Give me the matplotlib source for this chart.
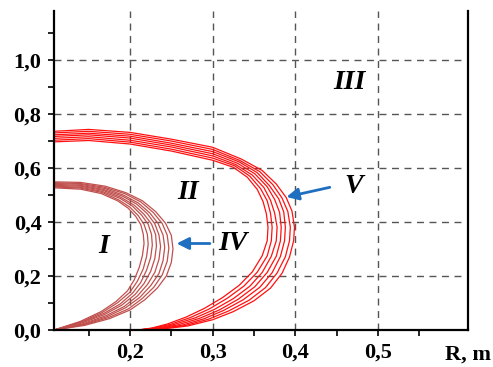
import matplotlib.pyplot as plt
from matplotlib.ticker import FixedLocator

plt.rcParams['font.family'] = 'Liberation Serif'

# red family (V), inner -> outer
red_x = [
    [0.108, 0.150, 0.200, 0.250, 0.300, 0.325, 0.342, 0.354, 0.361, 0.365, 0.367, 0.366, 0.360, 0.348, 0.332, 0.312, 0.290, 0.268, 0.245, 0.226, 0.210],
    [0.108, 0.150, 0.200, 0.250, 0.300, 0.327, 0.345, 0.358, 0.366, 0.370, 0.372, 0.371, 0.366, 0.354, 0.338, 0.318, 0.296, 0.273, 0.249, 0.228, 0.210],
    [0.108, 0.150, 0.200, 0.250, 0.300, 0.328, 0.348, 0.362, 0.370, 0.375, 0.378, 0.377, 0.371, 0.360, 0.345, 0.325, 0.302, 0.279, 0.253, 0.231, 0.210],
    [0.108, 0.150, 0.200, 0.250, 0.300, 0.330, 0.351, 0.366, 0.375, 0.381, 0.383, 0.382, 0.377, 0.366, 0.351, 0.331, 0.308, 0.284, 0.258, 0.233, 0.210],
    [0.108, 0.150, 0.200, 0.250, 0.300, 0.332, 0.354, 0.369, 0.380, 0.386, 0.388, 0.387, 0.382, 0.372, 0.357, 0.337, 0.313, 0.289, 0.262, 0.235, 0.210],
    [0.108, 0.150, 0.200, 0.250, 0.300, 0.333, 0.357, 0.373, 0.384, 0.391, 0.394, 0.393, 0.388, 0.378, 0.364, 0.344, 0.319, 0.295, 0.266, 0.238, 0.210],
    [0.108, 0.150, 0.200, 0.250, 0.300, 0.335, 0.360, 0.377, 0.389, 0.396, 0.399, 0.398, 0.393, 0.384, 0.370, 0.350, 0.325, 0.300, 0.270, 0.240, 0.210],
]
red_y = [
    [0.696, 0.701, 0.688, 0.662, 0.628, 0.602, 0.565, 0.520, 0.475, 0.430, 0.380, 0.330, 0.275, 0.215, 0.165, 0.120, 0.080, 0.048, 0.022, 0.007, 0.0],
    [0.702, 0.708, 0.695, 0.669, 0.636, 0.607, 0.569, 0.523, 0.478, 0.432, 0.380, 0.330, 0.274, 0.214, 0.163, 0.118, 0.078, 0.046, 0.021, 0.007, 0.0],
    [0.709, 0.715, 0.702, 0.677, 0.644, 0.612, 0.573, 0.527, 0.480, 0.433, 0.380, 0.330, 0.273, 0.213, 0.162, 0.116, 0.076, 0.045, 0.020, 0.006, 0.0],
    [0.716, 0.722, 0.710, 0.684, 0.652, 0.617, 0.578, 0.530, 0.483, 0.435, 0.380, 0.330, 0.273, 0.213, 0.160, 0.114, 0.074, 0.043, 0.019, 0.006, 0.0],
    [0.722, 0.728, 0.717, 0.691, 0.660, 0.622, 0.582, 0.533, 0.485, 0.437, 0.380, 0.330, 0.272, 0.212, 0.158, 0.112, 0.072, 0.041, 0.017, 0.005, 0.0],
    [0.729, 0.735, 0.724, 0.699, 0.668, 0.627, 0.586, 0.537, 0.488, 0.438, 0.380, 0.330, 0.271, 0.211, 0.157, 0.110, 0.070, 0.040, 0.016, 0.005, 0.0],
    [0.735, 0.742, 0.731, 0.706, 0.676, 0.632, 0.590, 0.540, 0.490, 0.440, 0.380, 0.330, 0.270, 0.210, 0.155, 0.108, 0.068, 0.038, 0.015, 0.004, 0.0],
]

# brown family (IV), inner -> outer
brown_x = [
    [0.108, 0.140, 0.165, 0.185, 0.198, 0.207, 0.213, 0.216, 0.217, 0.215, 0.211, 0.205, 0.197, 0.183, 0.165, 0.140, 0.108],
    [0.108, 0.140, 0.166, 0.186, 0.200, 0.210, 0.217, 0.221, 0.222, 0.220, 0.216, 0.209, 0.200, 0.185, 0.166, 0.141, 0.108],
    [0.108, 0.140, 0.166, 0.188, 0.203, 0.214, 0.222, 0.226, 0.227, 0.225, 0.220, 0.213, 0.203, 0.188, 0.168, 0.141, 0.108],
    [0.108, 0.140, 0.167, 0.189, 0.205, 0.217, 0.226, 0.231, 0.232, 0.230, 0.225, 0.217, 0.206, 0.190, 0.169, 0.142, 0.108],
    [0.108, 0.140, 0.168, 0.191, 0.208, 0.221, 0.230, 0.235, 0.237, 0.235, 0.230, 0.221, 0.209, 0.193, 0.171, 0.143, 0.108],
    [0.108, 0.140, 0.169, 0.192, 0.210, 0.224, 0.234, 0.240, 0.242, 0.240, 0.235, 0.225, 0.212, 0.195, 0.172, 0.144, 0.108],
    [0.108, 0.140, 0.169, 0.194, 0.213, 0.228, 0.239, 0.245, 0.247, 0.245, 0.239, 0.229, 0.215, 0.198, 0.174, 0.144, 0.108],
    [0.108, 0.140, 0.170, 0.195, 0.215, 0.231, 0.243, 0.250, 0.252, 0.250, 0.244, 0.233, 0.218, 0.200, 0.175, 0.145, 0.108],
]
brown_y = [
    [0.526, 0.521, 0.505, 0.478, 0.450, 0.420, 0.390, 0.355, 0.320, 0.275, 0.230, 0.185, 0.145, 0.105, 0.068, 0.032, 0.0],
    [0.529, 0.525, 0.509, 0.482, 0.454, 0.423, 0.391, 0.354, 0.317, 0.271, 0.226, 0.181, 0.140, 0.101, 0.064, 0.030, 0.0],
    [0.532, 0.528, 0.513, 0.487, 0.458, 0.425, 0.391, 0.354, 0.314, 0.268, 0.221, 0.176, 0.136, 0.096, 0.061, 0.028, 0.0],
    [0.535, 0.532, 0.517, 0.491, 0.462, 0.428, 0.392, 0.353, 0.311, 0.264, 0.217, 0.172, 0.131, 0.092, 0.057, 0.026, 0.0],
    [0.539, 0.535, 0.520, 0.495, 0.466, 0.430, 0.393, 0.352, 0.309, 0.261, 0.213, 0.168, 0.126, 0.087, 0.053, 0.023, 0.0],
    [0.542, 0.539, 0.524, 0.499, 0.470, 0.433, 0.394, 0.351, 0.306, 0.257, 0.209, 0.164, 0.121, 0.083, 0.049, 0.021, 0.0],
    [0.545, 0.542, 0.528, 0.504, 0.474, 0.435, 0.394, 0.351, 0.303, 0.254, 0.204, 0.159, 0.117, 0.078, 0.046, 0.019, 0.0],
    [0.548, 0.546, 0.532, 0.508, 0.478, 0.438, 0.395, 0.350, 0.300, 0.250, 0.200, 0.155, 0.112, 0.074, 0.042, 0.017, 0.0],
]

x_ticks = [0.2, 0.3, 0.4, 0.5]
x_labels = ['0,2', '0,3', '0,4', '0,5']
y_ticks = [0.0, 0.2, 0.4, 0.6, 0.8, 1.0]
y_labels = ['0,0', '0,2', '0,4', '0,6', '0,8', '1,0']

zones = ['I', 'II', 'III', 'IV', 'V']
zone_x = [0.168, 0.270, 0.466, 0.324, 0.470]
zone_y = [0.310, 0.510, 0.915, 0.320, 0.530]

fig = plt.figure(figsize=(4.93, 3.67), dpi=100)
ax = fig.add_axes([0.1095, 0.1008, 0.8398, 0.8692])

for xs, ys in zip(brown_x, brown_y):
    ax.plot(xs, ys, color='#c0504d', lw=0.9, solid_joinstyle='round')
for xs, ys in zip(red_x, red_y):
    ax.plot(xs, ys, color='#ff1010', lw=0.9, solid_joinstyle='round')

ax.set_xlim(0.108, 0.609)
ax.set_ylim(0.0, 1.18)

ax.set_xticks(x_ticks)
ax.set_xticklabels(x_labels)
ax.xaxis.set_minor_locator(FixedLocator([0.15, 0.25, 0.35, 0.45, 0.55]))
ax.set_yticks(y_ticks)
ax.set_yticklabels(y_labels)
ax.yaxis.set_minor_locator(FixedLocator([0.1, 0.3, 0.5, 0.7, 0.9, 1.1]))

ax.tick_params(which='both', direction='out', length=4, width=1.2, color='black')
ax.tick_params(axis='x', pad=5)
ax.tick_params(axis='y', pad=5)
for lab in ax.get_xticklabels() + ax.get_yticklabels():
    lab.set_fontsize(16)
    lab.set_fontweight('bold')

ax.spines['top'].set_visible(False)
for side in ['left', 'bottom', 'right']:
    ax.spines[side].set_linewidth(1.6)

for gx in x_ticks:
    ax.axvline(gx, color='#555555', lw=1.0, ls=(0, (5, 4)), zorder=0)
for gy in y_ticks[1:]:
    ax.axhline(gy, color='#555555', lw=1.0, ls=(0, (5, 4)), zorder=0)

for name, zx, zy in zip(zones, zone_x, zone_y):
    ax.text(zx, zy, name, fontsize=20, fontweight='bold', fontstyle='italic',
            ha='center', va='center')

ax.annotate('', xy=(0.253, 0.32), xytext=(0.300, 0.32),
            arrowprops=dict(arrowstyle='-|>', color='#1f6fc0', lw=2, mutation_scale=18))
ax.annotate('', xy=(0.386, 0.49), xytext=(0.445, 0.53),
            arrowprops=dict(arrowstyle='-|>', color='#1f6fc0', lw=2, mutation_scale=18))

ax.text(0.609, -0.09, 'R, m', fontsize=16, fontweight='bold', ha='center', va='center')

fig.savefig('out.png', dpi=100)
